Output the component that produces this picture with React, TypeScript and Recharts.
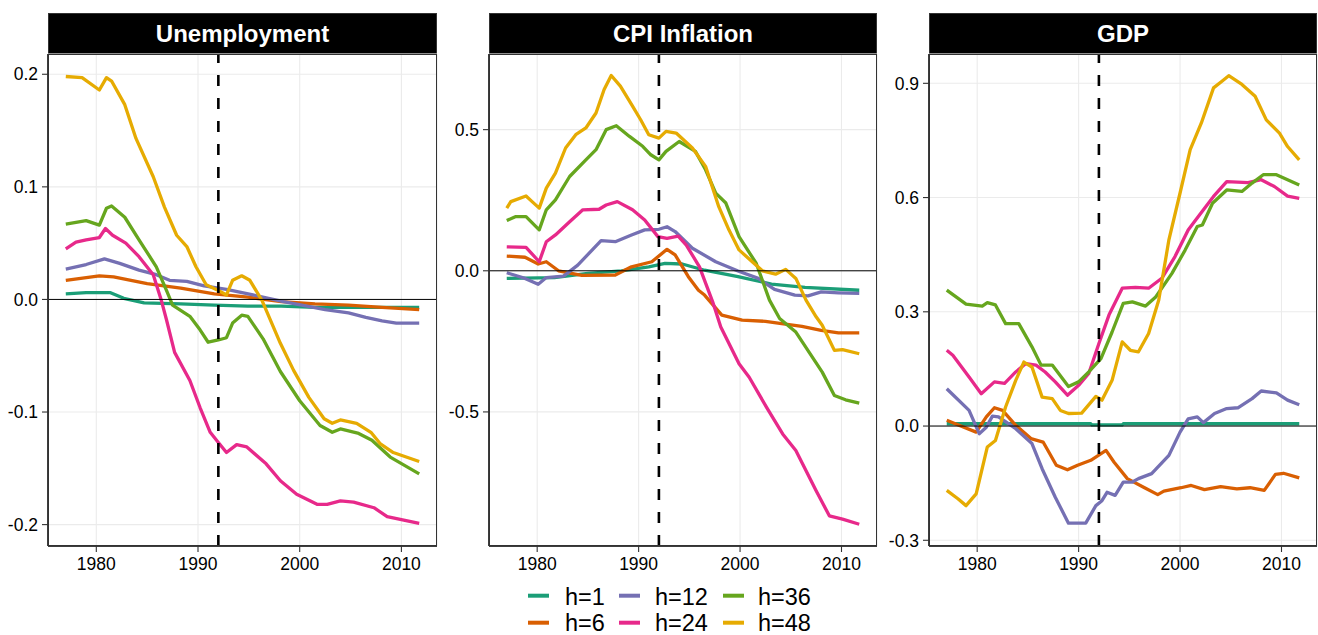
import React from 'react';
import { LineChart, Line, XAxis, YAxis, CartesianGrid, ReferenceLine } from 'recharts';

const FONT = '"Liberation Sans", Arial, Helvetica, sans-serif';

const horizons = ['h=1', 'h=6', 'h=12', 'h=24', 'h=36', 'h=48'];
const colors = ['#1B9E77', '#D95F02', '#7570B3', '#E7298A', '#66A61E', '#E6AB02'];
const xTicks = [1980, 1990, 2000, 2010];
const breakYear = 1992;

type P = [number, number][];

// ---------- Unemployment ----------
const unempH1: P = [[1977, 0.005], [1979, 0.006], [1981.4, 0.006], [1982.7, 0.001], [1984.7, -0.003], [1988.3, -0.004], [1991.6, -0.005], [1994.9, -0.006], [1998.2, -0.006], [2001.5, -0.007], [2005, -0.007], [2011.75, -0.007]];
const unempH6: P = [[1977, 0.017], [1980.3, 0.021], [1981.7, 0.020], [1985, 0.014], [1988.3, 0.010], [1991.6, 0.005], [1994.9, 0.002], [1998.2, -0.002], [2001.5, -0.004], [2004.8, -0.005], [2008.1, -0.007], [2011.75, -0.009]];
const unempH12: P = [[1977, 0.027], [1979, 0.031], [1980.8, 0.036], [1982.3, 0.032], [1984.2, 0.026], [1985.9, 0.022], [1987.2, 0.017], [1988.9, 0.016], [1990.6, 0.012], [1992.8, 0.009], [1995.4, 0.004], [1998.4, -0.002], [2000.2, -0.005], [2002.5, -0.009], [2004.8, -0.012], [2006.5, -0.016], [2008.1, -0.019], [2009.5, -0.021], [2011.75, -0.021]];
const unempH24: P = [[1977, 0.045], [1978, 0.051], [1979, 0.053], [1980.3, 0.055], [1980.9, 0.063], [1981.6, 0.057], [1982.9, 0.050], [1984.2, 0.038], [1985.6, 0.022], [1986.4, -0.001], [1986.9, -0.018], [1987.7, -0.047], [1989.2, -0.072], [1990.2, -0.096], [1991.2, -0.118], [1992, -0.127], [1992.8, -0.136], [1993.8, -0.129], [1994.8, -0.131], [1996.7, -0.146], [1998.1, -0.161], [1999.7, -0.173], [2001.7, -0.182], [2002.7, -0.182], [2004, -0.179], [2005.3, -0.180], [2007.3, -0.185], [2008.6, -0.193], [2011.75, -0.199]];
const unempH36: P = [[1977, 0.067], [1979, 0.070], [1980.3, 0.066], [1981, 0.081], [1981.5, 0.083], [1982.8, 0.073], [1984.2, 0.053], [1985.9, 0.029], [1986.9, 0.008], [1987.5, -0.005], [1989.2, -0.015], [1990.2, -0.027], [1991, -0.038], [1992, -0.036], [1992.8, -0.034], [1993.4, -0.021], [1994.3, -0.014], [1994.9, -0.015], [1996.4, -0.035], [1998.1, -0.064], [2000, -0.090], [2002, -0.112], [2003.2, -0.118], [2004, -0.115], [2005.8, -0.119], [2007.1, -0.125], [2008.9, -0.140], [2011.75, -0.155]];
const unempH48: P = [[1977, 0.198], [1978.6, 0.197], [1980.3, 0.186], [1981, 0.197], [1981.5, 0.194], [1982.8, 0.173], [1983.9, 0.143], [1985.6, 0.109], [1986.7, 0.082], [1987.9, 0.057], [1988.9, 0.047], [1989.8, 0.029], [1990.8, 0.013], [1992, 0.008], [1992.8, 0.004], [1993.4, 0.017], [1994.3, 0.021], [1995.1, 0.017], [1996.3, -0.001], [1998.1, -0.039], [1999.4, -0.063], [2000.9, -0.087], [2002.4, -0.106], [2003.2, -0.110], [2004, -0.107], [2005.6, -0.110], [2007, -0.118], [2007.9, -0.128], [2009.2, -0.136], [2011.75, -0.144]];

// ---------- CPI Inflation ----------
const cpiH1: P = [[1977, -0.027], [1981.7, -0.024], [1985, -0.009], [1988.3, 0.0], [1991, 0.014], [1992.6, 0.026], [1994.3, 0.024], [1996.5, 0.002], [1999.8, -0.021], [2003.1, -0.047], [2006.4, -0.059], [2011.75, -0.069]];
const cpiH6: P = [[1977, 0.052], [1978.8, 0.048], [1980.1, 0.024], [1980.9, 0.032], [1982.1, 0.0], [1984.4, -0.016], [1987.7, -0.015], [1989.3, 0.014], [1991.3, 0.032], [1992.8, 0.076], [1993.6, 0.056], [1994.9, -0.021], [1995.9, -0.069], [1996.5, -0.086], [1998.2, -0.157], [2000.2, -0.175], [2002.5, -0.179], [2004.1, -0.187], [2006.1, -0.197], [2008, -0.211], [2009.7, -0.220], [2011.75, -0.220]];
const cpiH12: P = [[1977, -0.007], [1978.8, -0.027], [1980.1, -0.048], [1980.9, -0.024], [1982.6, -0.019], [1984, 0.020], [1986.3, 0.107], [1987.7, 0.103], [1989.3, 0.127], [1990.6, 0.145], [1992, 0.147], [1992.8, 0.156], [1993.6, 0.139], [1995.3, 0.080], [1997.6, 0.032], [1999.8, -0.001], [2001.8, -0.027], [2003.4, -0.066], [2005.4, -0.086], [2006.7, -0.089], [2008, -0.075], [2009.7, -0.078], [2011.75, -0.080]];
const cpiH24: P = [[1977, 0.085], [1978.9, 0.083], [1980.2, 0.032], [1980.9, 0.103], [1981.8, 0.127], [1983.2, 0.174], [1984.5, 0.216], [1986.1, 0.218], [1986.8, 0.233], [1987.9, 0.245], [1989.4, 0.216], [1990.6, 0.180], [1991.9, 0.121], [1992.8, 0.115], [1993.9, 0.123], [1994.7, 0.091], [1996, 0.014], [1997.3, -0.110], [1998.1, -0.199], [1999.9, -0.329], [2000.9, -0.377], [2002.6, -0.483], [2004.2, -0.578], [2005.5, -0.637], [2007.5, -0.779], [2008.8, -0.868], [2010.1, -0.880], [2011.75, -0.898]];
const cpiH36: P = [[1977, 0.178], [1977.9, 0.192], [1978.9, 0.192], [1980.2, 0.145], [1980.9, 0.216], [1981.8, 0.251], [1983.2, 0.334], [1984.8, 0.393], [1985.8, 0.429], [1986.8, 0.500], [1987.8, 0.514], [1989.1, 0.476], [1990.4, 0.441], [1991.2, 0.411], [1992, 0.393], [1992.7, 0.423], [1994, 0.458], [1995.6, 0.423], [1996.6, 0.358], [1997.6, 0.275], [1998.6, 0.240], [1999.9, 0.121], [2001.6, 0.026], [2002.9, -0.104], [2003.9, -0.169], [2005.5, -0.217], [2006.8, -0.288], [2008.1, -0.359], [2009.3, -0.442], [2010.4, -0.457], [2011.75, -0.469]];
const cpiH48: P = [[1977, 0.222], [1977.4, 0.245], [1978.9, 0.265], [1979.5, 0.245], [1980.2, 0.222], [1980.9, 0.293], [1981.8, 0.346], [1982.8, 0.435], [1983.8, 0.482], [1984.8, 0.506], [1985.8, 0.559], [1986.6, 0.642], [1987.3, 0.692], [1988.2, 0.654], [1989.4, 0.583], [1990.2, 0.535], [1991, 0.482], [1992, 0.470], [1992.7, 0.494], [1993.7, 0.488], [1995.3, 0.435], [1996.6, 0.370], [1997.9, 0.227], [1998.9, 0.145], [1999.9, 0.074], [2001.2, 0.032], [2002.2, 0.0], [2003.5, -0.012], [2004.5, 0.005], [2005.5, -0.027], [2006.5, -0.104], [2007.5, -0.163], [2008.1, -0.193], [2009.3, -0.282], [2010.1, -0.279], [2011.75, -0.294]];

// ---------- GDP ----------
const gdpH1: P = [[1977, 0.006], [1991.2, 0.006], [1991.3, 0.003], [1994.3, 0.003], [1994.4, 0.006], [2011.75, 0.006]];
const gdpH6: P = [[1977, 0.015], [1978.2, 0.002], [1979.9, -0.016], [1980.9, 0.024], [1981.7, 0.048], [1982.5, 0.041], [1983.8, 0.002], [1985.3, -0.033], [1986.5, -0.042], [1987.8, -0.103], [1988.9, -0.115], [1989.9, -0.103], [1991.2, -0.090], [1992.7, -0.064], [1993.5, -0.095], [1994.8, -0.138], [1996.5, -0.162], [1997.8, -0.180], [1998.4, -0.171], [2000.1, -0.162], [2001.1, -0.156], [2002.4, -0.167], [2004, -0.159], [2005.6, -0.165], [2006.9, -0.162], [2008.3, -0.169], [2009.4, -0.127], [2010.2, -0.124], [2011.75, -0.136]];
const gdpH12: P = [[1977, 0.098], [1979.2, 0.041], [1980.2, -0.020], [1980.9, -0.003], [1981.5, 0.026], [1982.1, 0.024], [1983.8, -0.007], [1985.4, -0.046], [1986.4, -0.112], [1987.7, -0.187], [1989, -0.255], [1990.7, -0.255], [1991.7, -0.209], [1992.3, -0.196], [1992.8, -0.174], [1993.6, -0.182], [1994.4, -0.147], [1995.3, -0.147], [1995.9, -0.138], [1997.2, -0.125], [1998.9, -0.077], [2000, -0.016], [2000.8, 0.019], [2001.7, 0.024], [2002.3, 0.009], [2003.4, 0.033], [2004.6, 0.046], [2005.7, 0.048], [2007.1, 0.072], [2008, 0.092], [2009.5, 0.087], [2010.6, 0.068], [2011.75, 0.056]];
const gdpH24: P = [[1977, 0.199], [1977.6, 0.186], [1979.2, 0.129], [1980.4, 0.085], [1981.7, 0.116], [1982.7, 0.112], [1983.8, 0.142], [1984.8, 0.164], [1985.8, 0.160], [1986.7, 0.142], [1987.7, 0.116], [1988.9, 0.081], [1990, 0.107], [1991, 0.138], [1992, 0.217], [1993, 0.292], [1994.3, 0.362], [1995.6, 0.364], [1996.9, 0.362], [1998.2, 0.388], [1999.5, 0.445], [2000.8, 0.515], [2001.8, 0.550], [2003.3, 0.603], [2004.6, 0.642], [2006.7, 0.639], [2008, 0.647], [2009.3, 0.629], [2010.6, 0.604], [2011.75, 0.598]];
const gdpH36: P = [[1977, 0.357], [1978.9, 0.320], [1980.5, 0.315], [1981, 0.324], [1981.8, 0.318], [1982.8, 0.269], [1984.1, 0.269], [1985.4, 0.208], [1986.3, 0.160], [1987.4, 0.160], [1989, 0.104], [1990, 0.116], [1991, 0.142], [1992.2, 0.177], [1993.3, 0.247], [1994.4, 0.322], [1995.3, 0.326], [1996.6, 0.315], [1997.6, 0.339], [1999.2, 0.401], [2000.5, 0.462], [2001.7, 0.524], [2002.2, 0.528], [2003.2, 0.585], [2004.6, 0.620], [2006.1, 0.616], [2007.1, 0.638], [2008.2, 0.660], [2009.5, 0.660], [2011.75, 0.633]];
const gdpH48: P = [[1977, -0.169], [1978.1, -0.191], [1978.9, -0.209], [1979.9, -0.178], [1981, -0.055], [1981.8, -0.038], [1982.8, 0.050], [1983.8, 0.120], [1984.6, 0.168], [1985.4, 0.155], [1986.4, 0.076], [1987.4, 0.072], [1988.2, 0.041], [1989, 0.033], [1990.3, 0.034], [1991.7, 0.078], [1992.3, 0.068], [1993.3, 0.120], [1994.3, 0.221], [1995.1, 0.199], [1995.9, 0.195], [1996.9, 0.243], [1997.9, 0.331], [1998.9, 0.489], [2000, 0.612], [2001, 0.726], [2002.1, 0.796], [2003.3, 0.888], [2004.1, 0.905], [2004.8, 0.920], [2006.1, 0.897], [2007.4, 0.866], [2008.5, 0.804], [2009.8, 0.769], [2010.6, 0.734], [2011.75, 0.699]];

const unempTicks = [-0.2, -0.1, 0.0, 0.1, 0.2];
const cpiTicks = [-0.5, 0.0, 0.5];
const gdpTicks = [-0.3, 0.0, 0.3, 0.6, 0.9];

const PLOT_TOP = 54;
const PLOT_H = 492;
const Y_AXIS_W = 48;

interface PanelProps {
  left: number;
  plotWidth: number;
  rightMargin: number;
  title: string;
  series: P[];
  yDomain: [number, number];
  yTicks: number[];
}

function Panel({ left, plotWidth, rightMargin, title, series, yDomain, yTicks }: PanelProps) {
  const chartW = Y_AXIS_W + plotWidth + rightMargin;
  const tickStyle = { fill: '#000', fontSize: 17.5, fontFamily: FONT };
  return (
    <>
      <div
        style={{
          position: 'absolute', left: left + Y_AXIS_W, top: 13, width: plotWidth, height: 41,
          background: '#000', color: '#fff', fontFamily: FONT, fontWeight: 'bold', fontSize: 24,
          display: 'flex', alignItems: 'center', justifyContent: 'center', boxSizing: 'border-box',
          border: '1px solid #333',
        }}
      >
        {title}
      </div>
      <div style={{ position: 'absolute', left, top: PLOT_TOP - 10 }}>
        <LineChart width={chartW} height={10 + PLOT_H + 32} margin={{ top: 10, right: rightMargin, bottom: 0, left: 0 }}>
          <CartesianGrid stroke="#EBEBEB" strokeWidth={1.1} />
          <XAxis
            type="number" dataKey="x" domain={[1975.25, 2013.5]} ticks={xTicks} allowDataOverflow
            height={32} tick={tickStyle} tickSize={6} tickMargin={6}
            axisLine={{ stroke: '#000', strokeWidth: 1.5 }} tickLine={{ stroke: '#333', strokeWidth: 1.1 }}
          />
          <YAxis
            type="number" domain={yDomain} ticks={yTicks} allowDataOverflow width={Y_AXIS_W}
            tickFormatter={(v: number) => v.toFixed(1)} tick={tickStyle} tickSize={6} tickMargin={4}
            axisLine={{ stroke: '#000', strokeWidth: 1.5 }} tickLine={{ stroke: '#333', strokeWidth: 1.1 }}
          />
          {series.map((s, i) => (
            <Line
              key={horizons[i]}
              name={horizons[i]}
              data={s.map(([x, y]) => ({ x, y }))}
              dataKey="y"
              type="linear"
              stroke={colors[i]}
              strokeWidth={3.3}
              strokeLinejoin="round"
              dot={false}
              activeDot={false}
              isAnimationActive={false}
            />
          ))}
          <ReferenceLine y={0} stroke="#000" strokeWidth={1} />
          <ReferenceLine x={breakYear} stroke="#000" strokeWidth={2.6} strokeDasharray="11 12" />
        </LineChart>
      </div>
      <div
        style={{
          position: 'absolute', left: left + Y_AXIS_W, top: PLOT_TOP, width: plotWidth, height: PLOT_H,
          border: '1px solid #333', boxSizing: 'border-box', pointerEvents: 'none',
        }}
      />
    </>
  );
}

function Legend() {
  const cols = [
    { sx: 528, tx: 565, items: [0, 1] },
    { sx: 619, tx: 655, items: [2, 3] },
    { sx: 723, tx: 758, items: [4, 5] },
  ];
  const rowLineY = [595.7, 622.7];
  const rowTextY = [604.5, 631.3];
  return (
    <svg style={{ position: 'absolute', left: 0, top: 0 }} width={1318} height={635}>
      {cols.map((c) =>
        c.items.map((idx, r) => (
          <g key={idx}>
            <line x1={c.sx} x2={c.sx + 21} y1={rowLineY[r]} y2={rowLineY[r]} stroke={colors[idx]} strokeWidth={4} />
            <text x={c.tx} y={rowTextY[r]} fontFamily={FONT} fontSize={23.5} fill="#000">
              {horizons[idx]}
            </text>
          </g>
        ))
      )}
    </svg>
  );
}

export default function App() {
  return (
    <div style={{ position: 'absolute', left: 0, top: 0, width: 1318, height: 635, background: '#fff', overflow: 'hidden' }}>
      <Legend />
      <Panel left={0} plotWidth={389} rightMargin={3} title="Unemployment"
        series={[unempH1, unempH6, unempH12, unempH24, unempH36, unempH48]}
        yDomain={[-0.219, 0.218]} yTicks={unempTicks} />
      <Panel left={441} plotWidth={388} rightMargin={3} title="CPI Inflation"
        series={[cpiH1, cpiH6, cpiH12, cpiH24, cpiH36, cpiH48]}
        yDomain={[-0.975, 0.768]} yTicks={cpiTicks} />
      <Panel left={881} plotWidth={388} rightMargin={1} title="GDP"
        series={[gdpH1, gdpH6, gdpH12, gdpH24, gdpH36, gdpH48]}
        yDomain={[-0.315, 0.977]} yTicks={gdpTicks} />
    </div>
  );
}
